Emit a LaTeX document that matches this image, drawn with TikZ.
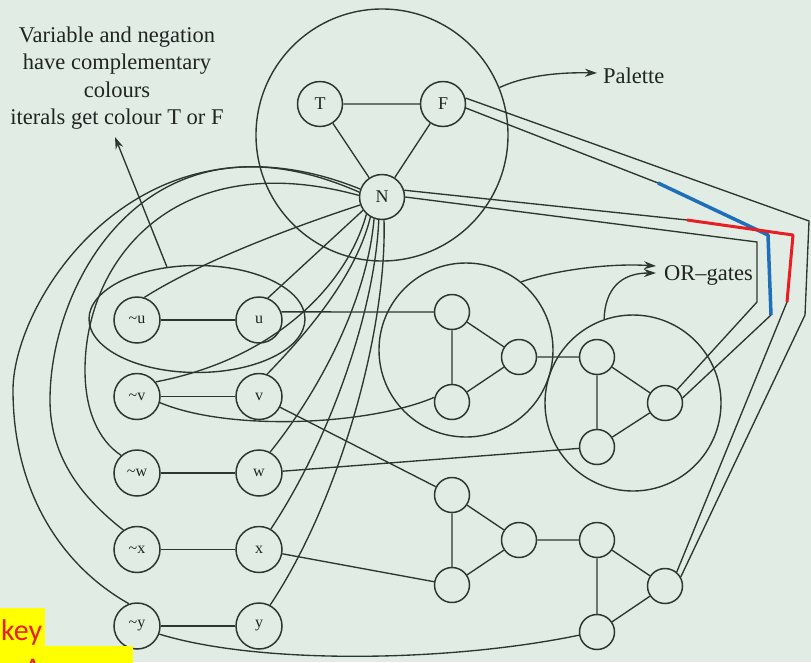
\documentclass[tikz,border=0pt]{standalone}
\usepackage{fontspec}
\setmainfont{Liberation Serif}
\newfontfamily\keyfont{Carlito}
\usetikzlibrary{shapes.geometric,arrows.meta}
\definecolor{bg}{RGB}{225,237,228}
\definecolor{ink}{RGB}{45,55,48}
\definecolor{txt}{RGB}{32,36,34}
\definecolor{hlblue}{RGB}{30,110,185}
\definecolor{hlred}{RGB}{232,30,36}
\definecolor{hlyellow}{RGB}{255,255,0}
\begin{document}
\begin{tikzpicture}[x=1pt,y=-1pt,color=ink,
  lit/.style={circle,draw,line width=1.5pt,minimum size=46pt,inner sep=0pt,text=txt,font=\fontsize{16}{16}\selectfont},
  palnode/.style={circle,draw,line width=1.5pt,minimum size=45pt,inner sep=0pt,text=txt,font=\fontsize{18}{18}\selectfont},
  gnode/.style={circle,draw,line width=1.5pt,minimum size=35pt,inner sep=0pt},
  ring/.style={circle,draw,line width=1.4pt,inner sep=0pt},
  wire/.style={line width=1.35pt},
  arr/.style={line width=1.35pt,-{Stealth[length=12pt,width=8pt]}},
  hlb/.style={hlblue,line width=3.5pt,line join=round},
  hlr/.style={hlred,line width=3pt,line join=round},
  note/.style={text=txt,font=\fontsize{22.5}{27.5}\selectfont,align=center},
  label/.style={text=txt,font=\fontsize{22.5}{22.5}\selectfont,anchor=west,inner sep=0pt},
  keytxt/.style={text=hlred,font=\keyfont\fontsize{30}{30}\selectfont,inner sep=0pt},
]
\clip (0,0) rectangle (811,662);
\fill[bg] (0,0) rectangle (811,662);

% rings
\node[ring,minimum size=252pt] (pal) at (382,135) {};
\node[ring,minimum size=174pt] (og1) at (466,350) {};
\node[ring,minimum size=176pt] (og2) at (633,403) {};
\node[ellipse,draw,line width=1.4pt,minimum width=216pt,minimum height=107pt,inner sep=0pt] (pair) at (197,319) {};

% palette
\node[palnode] (T) at (320,104) {T};
\node[palnode] (F) at (443,104) {F};
\node[palnode] (N) at (382,197) {N};

% literals
\node[lit] (nu) at (137,320) {\textasciitilde u};
\node[lit] (u)  at (259,320) {u};
\node[lit] (nv) at (137,396.5) {\textasciitilde v};
\node[lit] (v)  at (259,396.5) {v};
\node[lit] (nw) at (137,473) {\textasciitilde w};
\node[lit] (w)  at (259,473) {w};
\node[lit] (nx) at (137,549.5) {\textasciitilde x};
\node[lit] (x)  at (259,549.5) {x};
\node[lit] (ny) at (137,626) {\textasciitilde y};
\node[lit] (y)  at (259,626) {y};

% gates
\node[gnode] (a1) at (452,312) {};
\node[gnode] (a2) at (452,402) {};
\node[gnode] (a3) at (519,357) {};
\node[gnode] (b1) at (597,357) {};
\node[gnode] (b2) at (597,447) {};
\node[gnode] (b3) at (665,403) {};
\node[gnode] (c1) at (452,495) {};
\node[gnode] (c2) at (452,585) {};
\node[gnode] (c3) at (519,540) {};
\node[gnode] (d1) at (597,540) {};
\node[gnode] (d2) at (597,632) {};
\node[gnode] (d3) at (665,586) {};

% texts
\node[note] (vtext) at (117,78) {Variable and negation\\have complementary\\colours\\iterals get colour T or F};
\coordinate (vtip) at (115,137);
\node[label] (paltext) at (603,76) {Palette};
\coordinate (paltip) at (597,73);
\node[label] (ortext) at (664,275) {OR\textendash gates};
\coordinate (orA) at (656,266);
\coordinate (orB) at (656,273);

% simple edges
\draw[wire] (T) -- (F) (T) -- (N) (F) -- (N);
\draw[wire] (nu) -- (u) (nv) -- (v) (nw) -- (w) (nx) -- (x) (ny) -- (y);
\draw[wire] (a1) -- (a2) (a1) -- (a3) (a2) -- (a3) (a3) -- (b1)
            (b1) -- (b2) (b1) -- (b3) (b2) -- (b3);
\draw[wire] (c1) -- (c2) (c1) -- (c3) (c2) -- (c3) (c3) -- (d1)
            (d1) -- (d2) (d1) -- (d3) (d2) -- (d3);
\draw[wire] (u.20) -- (a1.west);
\draw[wire] (v) -- (c1) (w) -- (b2) (x) -- (c2);
\draw[wire] (nv.-15) .. controls (230,432) and (370,425) .. (a2.165);
\draw[wire] (ny.-20) .. controls (260,665) and (450,662) .. (d2.190);

% N fan
\draw[wire] (N.200) .. controls (290,228) and (200,262) .. (nu.72);
\draw[wire] (N.215) -- (u.68);
\draw[wire] (N.228) .. controls (345,290) and (270,360) .. (nv.38);
\draw[wire] (N.240) .. controls (355,280) and (300,340) .. (v.70);
\draw[wire] (N.250) .. controls (367,300) and (320,390) .. (w.62);
\draw[wire] (N.262) .. controls (375,310) and (330,440) .. (x.60);
\draw[wire] (N.275) .. controls (387,330) and (340,500) .. (y.62);

% big left arcs
\draw[wire] (N.160) .. controls (140,100) and (13,300) .. (13,390)
            .. controls (13,490) and (60,565) .. (ny.110);
\draw[wire] (N.168) .. controls (150,100) and (50,280) .. (50,400)
            .. controls (50,460) and (85,500) .. (nx.125);
\draw[wire] (N.176) .. controls (175,145) and (85,260) .. (85,370)
            .. controls (85,410) and (98,440) .. (nw.132);

% right-hand wires
\draw[wire] (F.15) -- (809,221) -- (805,315) -- (d3.30);
\draw[wire] (N.17) -- (687,220) -- (793,235) -- (787,302) -- (d3.50);
\draw[wire] (F.-10) -- (658,183) -- (768,235) -- (771,315) -- (b3.16);
\draw[wire] (N.0) -- (757,242) -- (757,302) -- (b3.48);
\draw[hlb] (658,183) -- (768,235) -- (771,315);
\draw[hlr] (687,220) -- (793,235) -- (787,302);

% annotation arrows
\draw[arr] (pair.120) -- (vtip);
\draw[arr] (pal.22) .. controls (520,78) and (550,72) .. (paltip);
\draw[arr] (og1.51) .. controls (555,270) and (610,263) .. (orA);
\draw[arr] (og2.109) .. controls (605,290) and (620,273) .. (orB);

% key / answer
\fill[hlyellow] (0,608) rectangle (45,646);
\node[keytxt,anchor=base west] (key) at (1,640) {key};
\fill[hlyellow] (0,646) rectangle (133,700);
\node[keytxt,anchor=base west] (ans) at (24,678) {Answer};
\end{tikzpicture}
\end{document}
